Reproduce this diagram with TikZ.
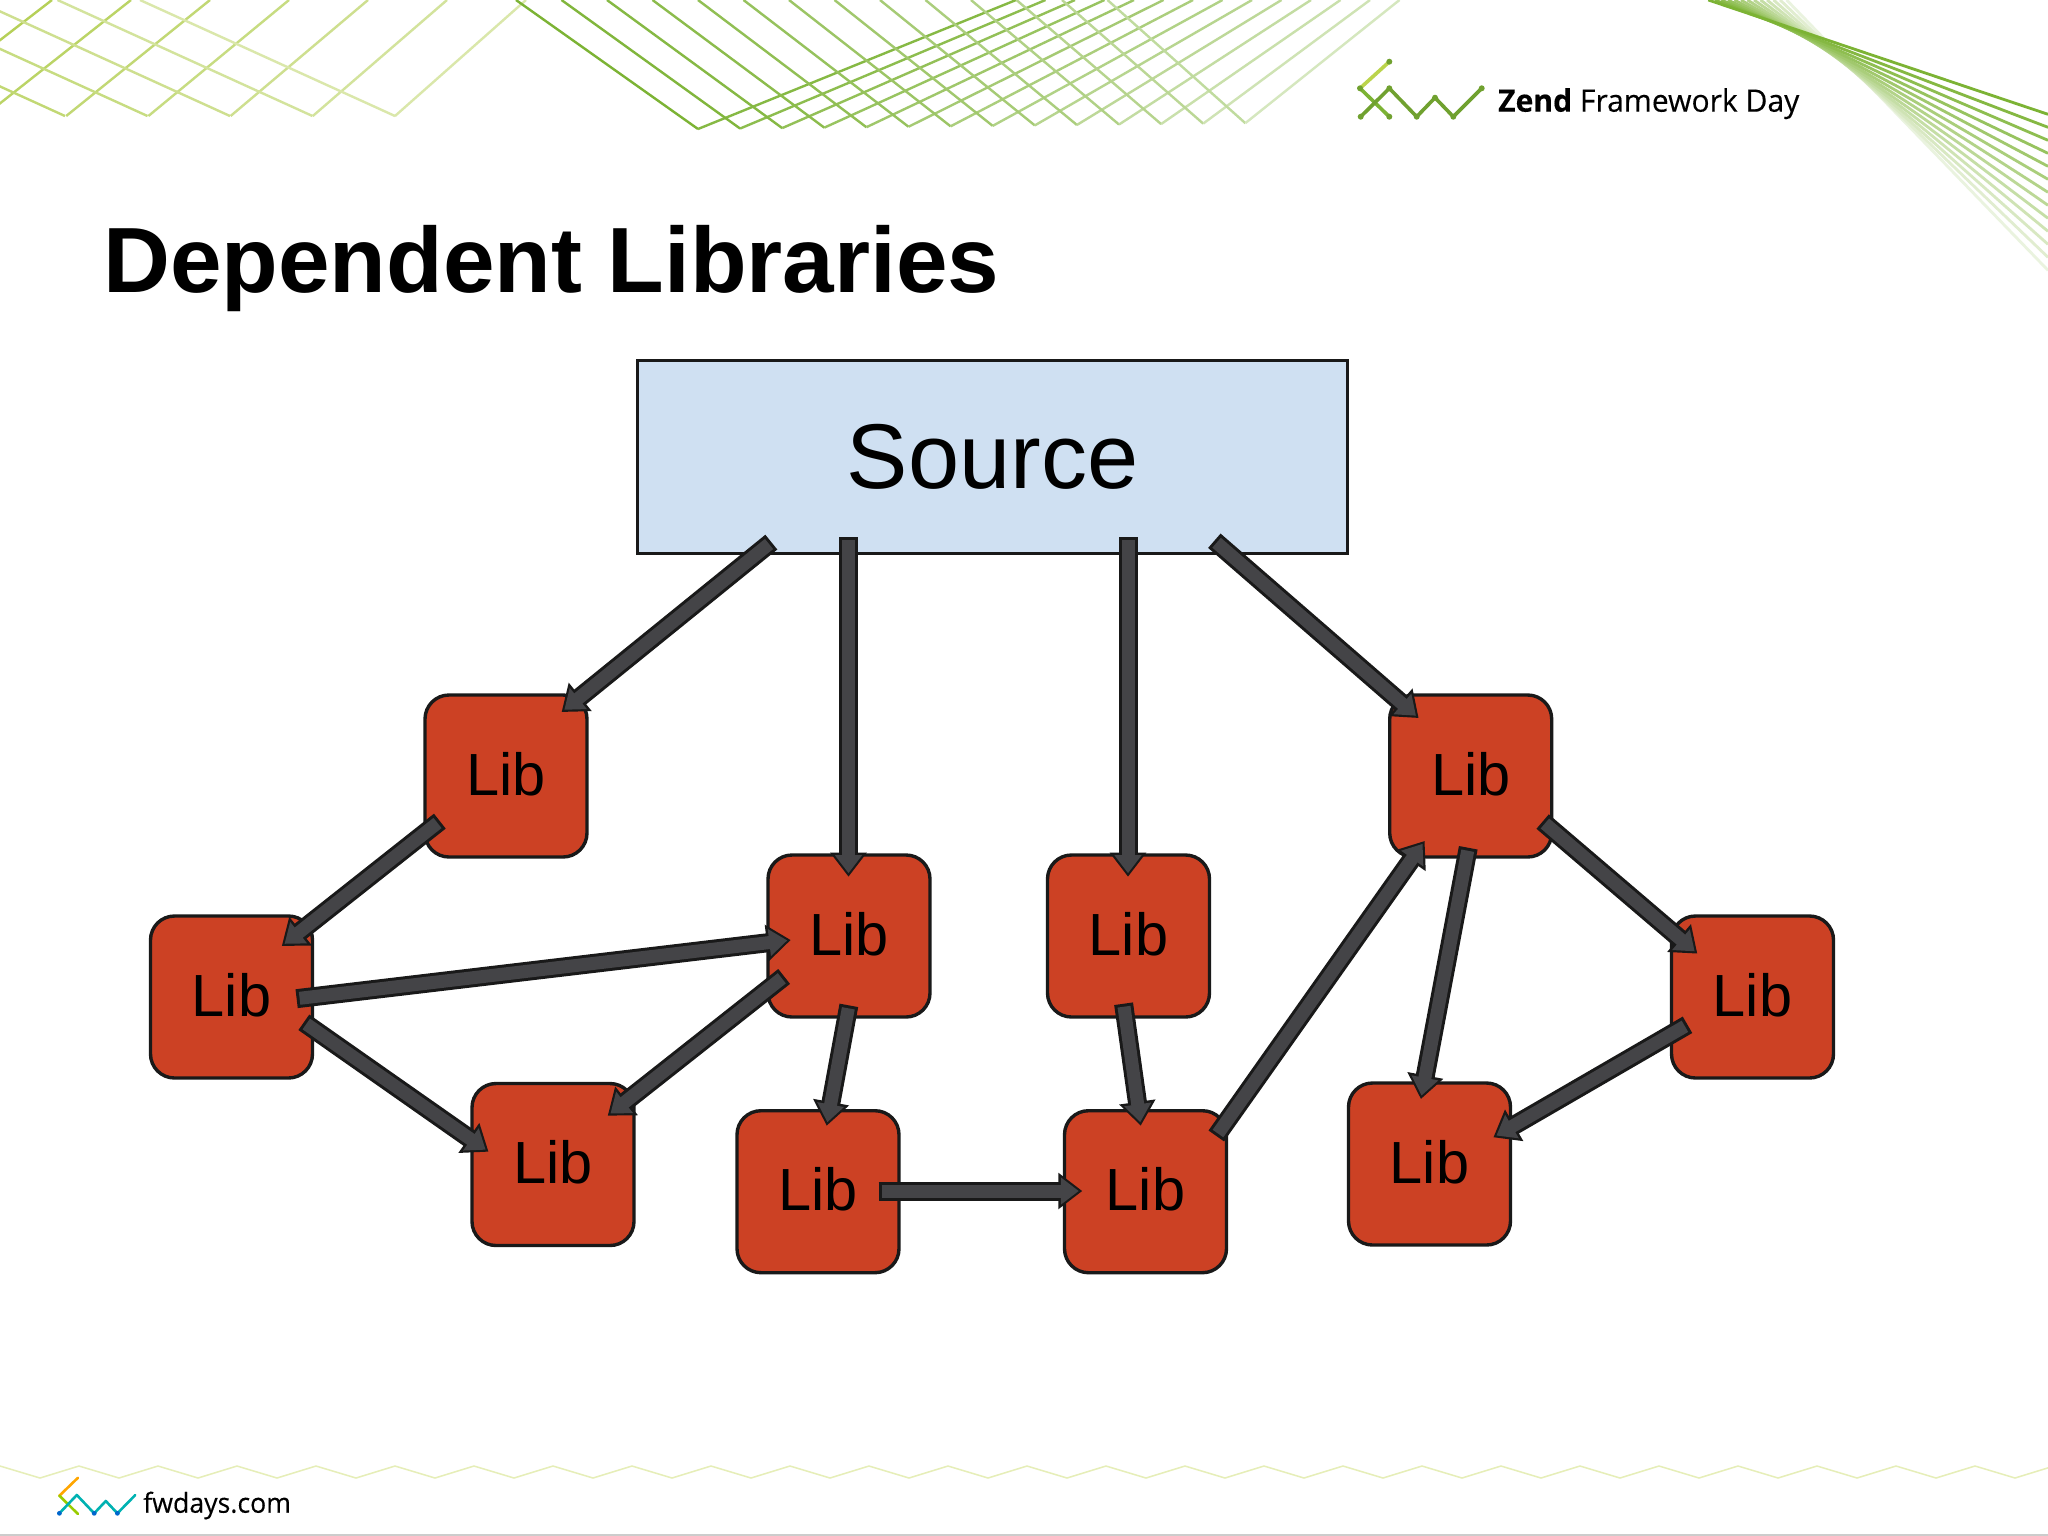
\documentclass[tikz,border=0pt]{standalone}
\usepackage{fontspec}
\setmainfont{Liberation Sans}
\newfontfamily\logofont[FakeStretch=0.97,FakeBold=0.25]{Open Sans}
\usetikzlibrary{arrows.meta}

\definecolor{srcblue}{HTML}{CFE0F2}
\definecolor{libred}{HTML}{CC4124}
\definecolor{shaftgray}{HTML}{444447}
\definecolor{linegreen}{HTML}{7CB334}
\definecolor{paleline}{HTML}{B4CF55}
\definecolor{zigline}{HTML}{E6EEB8}

\tikzstyle{srcblock} = [rectangle, draw=black!90, line width=3.4pt, fill=srcblue, minimum width=710pt, minimum height=193pt, text=black, font=\fontsize{92}{110}\selectfont]
\tikzstyle{libblock} = [rectangle, draw=black!90, line width=3.4pt, fill=libred, minimum size=162pt, inner sep=0pt, rounded corners=24pt, text=black, text depth=5pt, font=\fontsize{59.5}{72}\selectfont]
\tikzstyle{libarrow} = [shaftgray, line width=13pt, -{Triangle[length=18pt,width=26pt]}, shorten >=3.5pt, preaction={draw=black!90, line width=19pt, shorten >=0pt, shorten <=-3pt, -{Triangle[length=24pt,width=35pt]}}]
\tikzstyle{grid} = [line width=2.4pt]
\tikzstyle{logoline} = [line width=3.6pt, line cap=round, line join=round]

\begin{document}
\begin{tikzpicture}[x=1pt, y=-1pt]
    \useasboundingbox (0,0) rectangle (2048,1535);
    \fill [white] (0,0) rectangle (2048,1535);

    \foreach \k in {0,...,6} {
        \pgfmathsetmacro{\shade}{50+8*\k}
        \draw [grid, paleline!\shade!white] ({395-82.2*\k},116) -- ({526-79*\k},0);
    }
    \foreach \k in {0,...,4} {
        \pgfmathsetmacro{\shade}{50+8*\k}
        \draw [grid, paleline!\shade!white] ({395-82.5*\k},116) -- ({140-82.5*\k},0);
    }
    \foreach \k in {0,...,13} {
        \pgfmathsetmacro{\shade}{100-4*\k}
        \draw [grid, linegreen!\shade!white] ({516+45.5*\k},0) -- ({698+42.1*\k},{129-0.45*\k});
        \pgfmathsetmacro{\shade}{92-4.6*\k}
        \draw [grid, linegreen!\shade!white] ({698+42.1*\k},{129-0.45*\k}) -- ({1016+29.5*\k},0);
    }
    \foreach \k in {12,...,0} {
        \pgfmathsetmacro{\shade}{100-7*\k}
        \draw [line width=2.8pt, linegreen!\shade!white] ({1708.3+6.53*\k},0) -- (2048,{114.3+13*\k});
    }

    \foreach \k in {0,...,25} {
        \draw [line width=1.5pt, zigline] ({79*\k},1466) -- ({79*\k+40},1478) -- ({79*\k+79},1466);
    }
    \draw [line width=2pt, black!20] (0,1534.5) -- (2048,1534.5);

    \draw [logoline, paleline!90!yellow] (1389.3,61.7) -- (1360,88.3);
    \draw [logoline, linegreen] (1360,88.3) -- (1389.3,116.7);
    \draw [logoline, linegreen!90!black] (1360.7,116.7) -- (1389.3,88.3) -- (1416.7,116.7) -- (1435,97.7) -- (1453.3,116.7) -- (1481.7,88.3);
    \foreach \px/\py in {1389.3/61.7,1360/88.3,1389.3/116.7,1360.7/116.7,1389.3/88.3,1416.7/116.7,1435/97.7,1453.3/116.7,1481.7/88.3} {
        \fill [linegreen!90!black] (\px,\py) circle (3pt);
    }
    \node (zendlabel) [anchor=base west, inner sep=0pt, font=\logofont\fontsize{31}{36}\selectfont] at (1498,111.7) {\textbf{Zend} Framework Day};

    \draw [line width=2.6pt, line cap=round, orange!70!yellow] (78,1477.7) -- (59.4,1495.7);
    \draw [line width=2.6pt, line cap=round, lime!80!black] (59.4,1495.7) -- (78,1514);
    \draw [line width=2.6pt, line cap=round, line join=round, teal!60!cyan] (59.4,1513.3) -- (76.8,1495) -- (94.2,1513.3) -- (105.8,1501) -- (117.4,1513.3) -- (135.3,1495);
    \foreach \px/\py in {59.4/1513.3,94.2/1513.3,117.4/1513.3} {
        \fill [blue!50!cyan!80!black] (\px,\py) circle (2.4pt);
    }
    \node (fwdayslabel) [anchor=base west, inner sep=0pt, font=\logofont\fontsize{27.5}{32}\selectfont] at (143,1512.7) {fwdays.com};

    \node (title) [anchor=base west, inner sep=0pt, font=\bfseries\fontsize{92.7}{110}\selectfont] at (103,292) {Dependent Libraries};

    \node (source) [srcblock] at (992.7,457) {Source};
    \node (libA) [libblock, node distance=319pt, below of = source, xshift=-486.7pt] {Lib};
    \node (libH) [libblock, node distance=319pt, below of = source, xshift=478pt] {Lib};
    \node (libD) [libblock, node distance=160pt, below of = libA, xshift=343pt] {Lib};
    \node (libF) [libblock, node distance=279.5pt, right of = libD] {Lib};
    \node (libE) [libblock, node distance=255.7pt, below of = libD, xshift=-31pt] {Lib};
    \node (libG) [libblock, node distance=327.5pt, right of = libE] {Lib};
    \node (libB) [libblock, node distance=221pt, below of = libA, xshift=-274.5pt] {Lib};
    \node (libC) [libblock, node distance=167.5pt, below of = libB, xshift=321.5pt] {Lib};
    \node (libI) [libblock, node distance=221pt, below of = libH, xshift=281.8pt] {Lib};
    \node (libJ) [libblock, node distance=167pt, below of = libI, xshift=-323pt] {Lib};

    \draw [libarrow] ([shift={(-223.7,87)}]source.center) -- ([shift={(55.6,-64)}]libA.center);
    \draw [libarrow] ([shift={(-144.2,83)}]source.center) -- ([shift={(-.5,-59.3)}]libD.center);
    \draw [libarrow] ([shift={(135.3,83)}]source.center) -- ([shift={(-.5,-59.3)}]libF.center);
    \draw [libarrow] ([shift={(223.9,85.7)}]source.center) -- ([shift={(-52.1,-58)}]libH.center);
    \draw [libarrow] ([shift={(-68.5,47)}]libA.center) -- ([shift={(50.3,-51)}]libB.center);
    \draw [libarrow] ([shift={(68.1,1.3)}]libB.center) -- ([shift={(-58.3,4)}]libD.center);
    \draw [libarrow] ([shift={(74.8,27)}]libB.center) -- ([shift={(-64.5,-12.8)}]libC.center);
    \draw [libarrow] ([shift={(-67.2,42.3)}]libD.center) -- ([shift={(54.7,-48.8)}]libC.center);
    \draw [libarrow] ([shift={(-.7,72.3)}]libD.center) -- ([shift={(8.7,-66)}]libE.center);
    \draw [libarrow] ([shift={(63.7,-.7)}]libE.center) -- ([shift={(-63.2,-.7)}]libG.center);
    \draw [libarrow] ([shift={(-4.5,70.7)}]libF.center) -- ([shift={(-4.8,-66)}]libG.center);
    \draw [libarrow] ([shift={(72.5,-58.2)}]libG.center) -- ([shift={(-46.1,65)}]libH.center);
    \draw [libarrow] ([shift={(-3,74.7)}]libH.center) -- ([shift={(-8.6,-65)}]libJ.center);
    \draw [libarrow] ([shift={(74.2,47.5)}]libH.center) -- ([shift={(-55.2,-43.4)}]libI.center);
    \draw [libarrow] ([shift={(-67.6,29.3)}]libI.center) -- ([shift={(63.9,-26.7)}]libJ.center);
\end{tikzpicture}
\end{document}
